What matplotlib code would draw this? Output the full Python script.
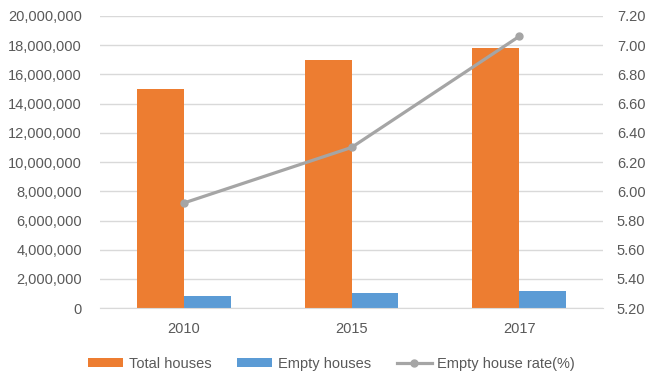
import numpy as np
import matplotlib
matplotlib.use('Agg')
import matplotlib.pyplot as plt
from matplotlib.ticker import FuncFormatter

years = ['2010', '2015', '2017']
total_houses = [15000000, 17000000, 17800000]
empty_houses = [850000, 1020000, 1180000]
empty_rate = [5.92, 6.30, 7.06]

orange = '#ED7D31'
blue = '#5B9BD5'
grey = '#A5A5A5'
text_col = '#595959'

plt.rcParams['font.family'] = ['Liberation Sans', 'DejaVu Sans']
fs = 10.5

fig = plt.figure(figsize=(6.54, 3.8), dpi=100)
ax = fig.add_axes([0.153, 0.189, 0.769, 0.769])
ax2 = ax.twinx()

x = np.arange(len(years))
w = 0.28
b1 = ax.bar(x - w / 2, total_houses, w, color=orange, label='Total houses', zorder=2)
b2 = ax.bar(x + w / 2, empty_houses, w, color=blue, label='Empty houses', zorder=2)
l1, = ax2.plot(x, empty_rate, color=grey, lw=2.3, marker='o', ms=5,
               label='Empty house rate(%)', zorder=3)

ax.set_xlim(-0.5, 2.5)
ax.set_ylim(0, 20000000)
ax.set_yticks(np.arange(0, 20000001, 2000000))
ax.yaxis.set_major_formatter(FuncFormatter(lambda v, p: f'{int(v):,}'))
ax2.set_ylim(5.2, 7.2)
ax2.set_yticks(np.arange(5.2, 7.21, 0.2))
ax2.yaxis.set_major_formatter(FuncFormatter(lambda v, p: f'{v:.2f}'))
ax.set_xticks(x)
ax.set_xticklabels(years)

ax.grid(axis='y', color='#D9D9D9', lw=1, zorder=0)
ax.set_axisbelow(True)
for a in (ax, ax2):
    for s in a.spines.values():
        s.set_visible(False)
    a.tick_params(length=0, labelsize=fs, colors=text_col)
ax.tick_params(axis='y', pad=13)
ax.tick_params(axis='x', pad=10)
ax2.tick_params(axis='y', pad=10)
ax.spines['bottom'].set_visible(True)
ax.spines['bottom'].set_color('#D9D9D9')

fig.legend(handles=[b1, b2, l1], loc='lower center', ncol=3, frameon=False,
           bbox_to_anchor=(0.507, -0.01), fontsize=fs, labelcolor=text_col,
           handlelength=2.4, handleheight=0.5, columnspacing=1.8,
           handletextpad=0.35)

fig.savefig('out.png', dpi=100)
